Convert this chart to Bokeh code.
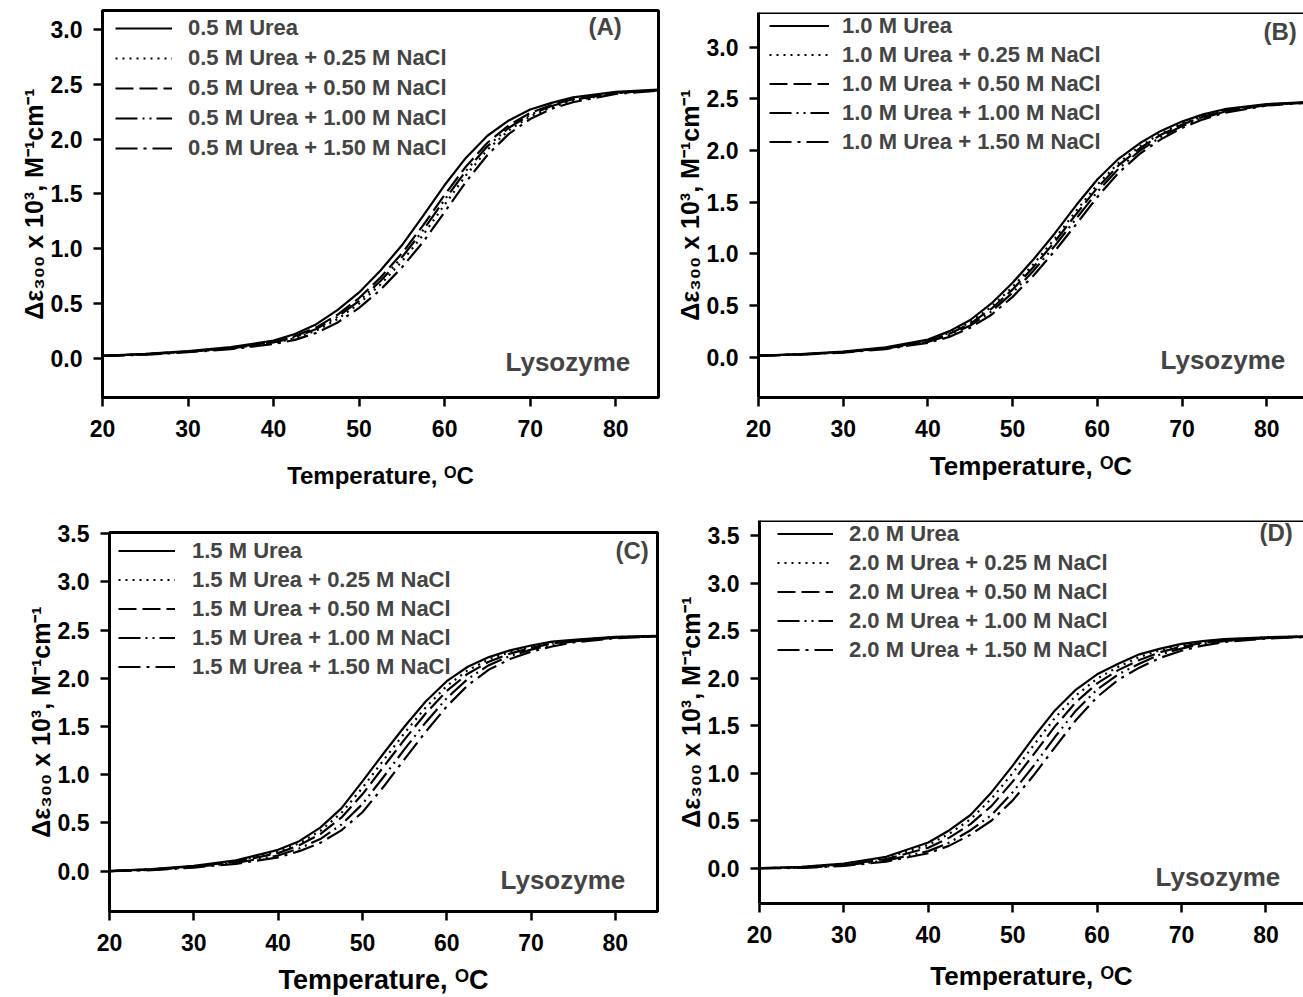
from bokeh.plotting import figure
from bokeh.models import Range1d, FixedTicker, PrintfTickFormatter, Legend, LegendItem, Label, Span
from bokeh.layouts import column, row
from bokeh.embed import file_html
from bokeh.resources import INLINE

# ---------------- data ----------------
temps = [20, 25, 30, 35, 40, 42.5, 45, 47.5, 50, 52.5, 55, 57.5, 60, 62.5, 65, 67.5, 70, 72.5, 75, 80, 85]

nacl_suffix = ["", " + 0.25 M NaCl", " + 0.50 M NaCl", " + 1.00 M NaCl", " + 1.50 M NaCl"]

a_urea = "0.5"
a_00 = [0.020, 0.040, 0.065, 0.100, 0.160, 0.220, 0.310, 0.440, 0.600, 0.800, 1.030, 1.300, 1.580, 1.830, 2.030, 2.170, 2.270, 2.330, 2.380, 2.430, 2.450]
a_025 = [0.020, 0.034, 0.057, 0.087, 0.138, 0.182, 0.252, 0.357, 0.498, 0.672, 0.883, 1.127, 1.401, 1.670, 1.902, 2.080, 2.206, 2.292, 2.348, 2.417, 2.444]
a_050 = [0.020, 0.037, 0.061, 0.094, 0.149, 0.201, 0.281, 0.398, 0.549, 0.736, 0.956, 1.214, 1.490, 1.750, 1.966, 2.125, 2.238, 2.311, 2.364, 2.424, 2.447]
a_100 = [0.020, 0.035, 0.059, 0.090, 0.143, 0.191, 0.267, 0.378, 0.523, 0.704, 0.920, 1.170, 1.446, 1.710, 1.934, 2.103, 2.222, 2.301, 2.356, 2.420, 2.445]
a_150 = [0.020, 0.031, 0.054, 0.082, 0.129, 0.167, 0.231, 0.326, 0.459, 0.624, 0.828, 1.062, 1.334, 1.610, 1.854, 2.047, 2.182, 2.277, 2.336, 2.412, 2.441]

b_urea = "1.0"
b_00 = [0.015, 0.030, 0.055, 0.095, 0.170, 0.250, 0.360, 0.520, 0.720, 0.950, 1.200, 1.470, 1.720, 1.920, 2.070, 2.190, 2.280, 2.350, 2.400, 2.450, 2.470]
b_025 = [0.015, 0.028, 0.052, 0.090, 0.161, 0.234, 0.338, 0.488, 0.680, 0.904, 1.150, 1.416, 1.670, 1.880, 2.040, 2.166, 2.262, 2.336, 2.390, 2.446, 2.468]
b_050 = [0.015, 0.027, 0.050, 0.088, 0.156, 0.224, 0.325, 0.469, 0.656, 0.876, 1.120, 1.384, 1.640, 1.856, 2.022, 2.152, 2.251, 2.328, 2.384, 2.444, 2.467]
b_100 = [0.015, 0.026, 0.048, 0.084, 0.148, 0.212, 0.307, 0.443, 0.624, 0.840, 1.080, 1.340, 1.600, 1.824, 1.998, 2.132, 2.237, 2.316, 2.376, 2.440, 2.465]
b_150 = [0.015, 0.025, 0.045, 0.079, 0.139, 0.196, 0.285, 0.411, 0.584, 0.794, 1.030, 1.286, 1.550, 1.784, 1.968, 2.108, 2.219, 2.302, 2.366, 2.436, 2.463]

c_urea = "1.5"
c_00 = [0.000, 0.020, 0.055, 0.110, 0.220, 0.310, 0.450, 0.650, 0.930, 1.220, 1.500, 1.760, 1.970, 2.120, 2.220, 2.290, 2.340, 2.380, 2.400, 2.430, 2.440]
c_025 = [0.000, 0.018, 0.051, 0.103, 0.203, 0.288, 0.416, 0.602, 0.863, 1.150, 1.433, 1.698, 1.920, 2.084, 2.196, 2.273, 2.328, 2.370, 2.395, 2.428, 2.439]
c_050 = [0.000, 0.015, 0.048, 0.096, 0.186, 0.267, 0.383, 0.554, 0.796, 1.081, 1.366, 1.635, 1.869, 2.048, 2.172, 2.256, 2.316, 2.361, 2.390, 2.425, 2.438]
c_100 = [0.000, 0.012, 0.042, 0.085, 0.161, 0.234, 0.332, 0.482, 0.695, 0.976, 1.265, 1.542, 1.794, 1.994, 2.136, 2.231, 2.298, 2.346, 2.383, 2.422, 2.436]
c_150 = [0.000, 0.008, 0.036, 0.075, 0.142, 0.206, 0.292, 0.422, 0.610, 0.874, 1.162, 1.444, 1.708, 1.928, 2.090, 2.200, 2.276, 2.330, 2.372, 2.416, 2.434]

d_urea = "2.0"
d_00 = [0.000, 0.015, 0.050, 0.120, 0.270, 0.400, 0.560, 0.800, 1.080, 1.380, 1.660, 1.880, 2.040, 2.150, 2.250, 2.310, 2.360, 2.390, 2.410, 2.430, 2.440]
d_025 = [0.000, 0.012, 0.044, 0.109, 0.245, 0.364, 0.515, 0.733, 1.002, 1.296, 1.582, 1.818, 1.995, 2.119, 2.222, 2.293, 2.346, 2.382, 2.404, 2.427, 2.439]
d_050 = [0.000, 0.009, 0.038, 0.096, 0.216, 0.322, 0.464, 0.656, 0.912, 1.200, 1.492, 1.748, 1.944, 2.084, 2.190, 2.274, 2.330, 2.372, 2.398, 2.424, 2.437]
d_100 = [0.000, 0.005, 0.030, 0.080, 0.180, 0.270, 0.400, 0.560, 0.800, 1.080, 1.380, 1.660, 1.880, 2.040, 2.150, 2.250, 2.310, 2.360, 2.390, 2.420, 2.435]
d_150 = [0.000, 0.003, 0.025, 0.069, 0.158, 0.238, 0.353, 0.502, 0.714, 0.979, 1.272, 1.559, 1.801, 1.982, 2.110, 2.214, 2.288, 2.342, 2.379, 2.416, 2.433]

x_ticks = [20, 30, 40, 50, 60, 70, 80]
y_ticks_ab = [0.0, 0.5, 1.0, 1.5, 2.0, 2.5, 3.0]
y_ticks_cd = [0.0, 0.5, 1.0, 1.5, 2.0, 2.5, 3.0, 3.5]

y_title = "Δε₃₀₀ x 10³, M⁻¹cm⁻¹"
x_title = "Temperature, ᴼC"
protein = "Lysozyme"

# ---------------- styling ----------------
FONT = "Liberation Sans"
dashes = ["solid", "2 5", "18 6", "22 5 2 5 2 5", "22 6 3 6"]


def panel(letter, urea, series, yticks, W, H, bl, bt, br, bb, xend, ystart, yend,
          full_frame, leg, tag_pos, lys_pos, xlab):
    p = figure(width=W, height=H, output_backend="svg", toolbar_location=None,
               x_range=Range1d(20, xend), y_range=Range1d(ystart, yend),
               min_border_left=bl, min_border_top=bt, min_border_right=br, min_border_bottom=bb)
    p.background_fill_color = "white"
    p.border_fill_color = "white"
    p.grid.visible = False
    if full_frame:
        p.outline_line_color = "black"
        p.outline_line_width = 3
    else:
        p.outline_line_color = None
        p.add_layout(Span(location=yend, dimension="width", line_color="black", line_width=3))

    for ax in (p.xaxis[0], p.yaxis[0]):
        ax.axis_line_width = 3
        ax.axis_line_color = "black"
        ax.major_tick_line_width = 2.5
        ax.major_tick_out = 9
        ax.major_tick_in = 0
        ax.minor_tick_line_color = None
        ax.major_label_text_font = FONT
        ax.major_label_text_font_style = "bold"
        ax.major_label_text_font_size = "23px"
        ax.major_label_text_color = "black"
        ax.axis_label_text_font = FONT
        ax.axis_label_text_font_style = "bold"
        ax.axis_label_text_color = "black"
    p.xaxis.ticker = FixedTicker(ticks=x_ticks)
    p.yaxis.ticker = FixedTicker(ticks=yticks)
    p.yaxis.formatter = PrintfTickFormatter(format="%.1f")
    p.xaxis.major_label_standoff = 13
    p.yaxis.major_label_standoff = 11

    p.yaxis.axis_label = y_title
    p.yaxis.axis_label_text_font_size = "25px"
    p.yaxis.axis_label_standoff = 0

    p.xaxis.axis_label = x_title
    p.xaxis.axis_label_text_font_size = xlab[0]
    p.xaxis.axis_label_standoff = xlab[1]

    rs = []
    for ys, dash in zip(series, dashes):
        r = p.line(temps, ys, line_color="black", line_width=2.2, line_dash=dash)
        rs.append(r)

    vx, vy, h, s, gw, so = leg
    labels = [f"{urea} M Urea{suf}" for suf in nacl_suffix]
    items = [LegendItem(label=lab, renderers=[r]) for lab, r in zip(labels, rs)]
    lg = Legend(items=items, location=(vx, vy), padding=0, margin=0, spacing=s,
                label_height=h, glyph_height=h, glyph_width=gw, label_standoff=so,
                label_text_font=FONT, label_text_font_style="bold",
                label_text_font_size="22px", border_line_color=None,
                background_fill_alpha=0)
    p.add_layout(lg)

    p.add_layout(Label(x=tag_pos[0], y=tag_pos[1], x_units="screen", y_units="screen",
                       text=f"({letter})", text_font=FONT, text_font_style="bold",
                       text_font_size="24px", text_align="left", text_baseline="alphabetic"))
    p.add_layout(Label(x=lys_pos[0], y=lys_pos[1], x_units="screen", y_units="screen",
                       text=protein, text_font=FONT, text_font_style="bold",
                       text_font_size="26px", text_align="left", text_baseline="alphabetic"))
    return p


pa = panel("A", a_urea, [a_00, a_025, a_050, a_100, a_150], y_ticks_ab,
           664, 505, 102, 10, 6, 108, 85, -0.359, 3.173, True,
           (13, 235, 28, 2, 57, 16), (486, 371), (403, 36), ("24px", 22))
pb = panel("B", b_urea, [b_00, b_025, b_050, b_100, b_150], y_ticks_ab,
           639, 505, 94, 12, 0, 108, 84.34, -0.390, 3.336, False,
           (11, 242, 27, 2, 60, 13), (505, 366), (402, 38), ("26px", 11))
pc = panel("C", c_urea, [c_00, c_025, c_050, c_100, c_150], y_ticks_cd,
           664, 492, 109, 27, 7, 84, 85, -0.420, 3.513, True,
           (9, 231, 27, 2, 57, 17), (506, 361), (391, 32), ("27px", 11))
pd = panel("D", d_urea, [d_00, d_025, d_050, d_100, d_150], y_ticks_cd,
           639, 492, 95, 15, 0, 94, 84.45, -0.371, 3.658, False,
           (18, 240, 27, 2, 56, 16), (500, 371), (396, 27), ("26px", 15))

layout = column(row(column(pa), column(pb)), row(column(pc), column(pd)))
open("out.html", "w").write(file_html(layout, INLINE))
